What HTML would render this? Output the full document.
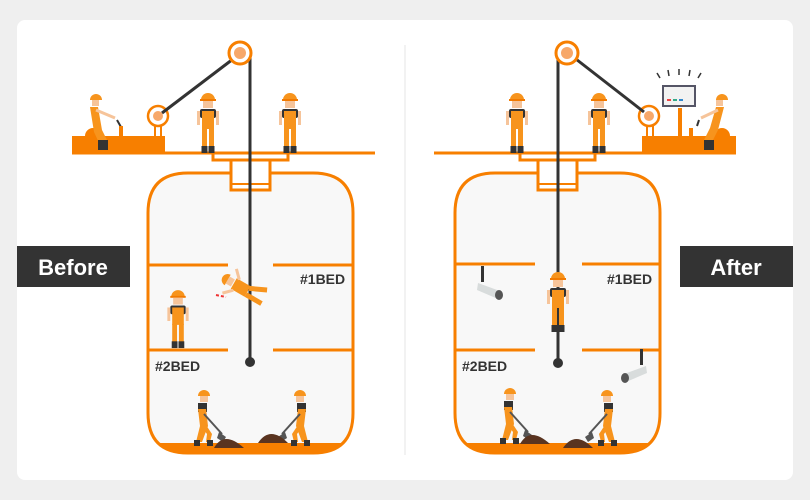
<!DOCTYPE html>
<html><head><meta charset="utf-8"><style>
html,body{margin:0;padding:0;background:#efefef;}
svg{display:block}
text{font-family:"Liberation Sans",sans-serif;font-weight:bold}
</style></head><body>
<svg width="810" height="500" viewBox="0 0 810 500" xmlns="http://www.w3.org/2000/svg">
<defs>
<clipPath id="cl"><path d="M148 213 Q148 173 188 173 L313 173 Q353 173 353 213 L353 413 Q353 453 313 453 L188 453 Q148 453 148 413 Z"/></clipPath>
<clipPath id="cr"><path d="M455 213 Q455 173 495 173 L620 173 Q660 173 660 213 L660 413 Q660 453 620 453 L495 453 Q455 453 455 413 Z"/></clipPath>
<symbol id="w" viewBox="0 0 24 60" overflow="visible">
  <path d="M5 5 a7 7 0 0 1 14 0 z" fill="#f7941d"/>
  <rect x="4" y="4" width="16" height="2" fill="#f27a00"/>
  <rect x="7" y="6" width="10" height="7" fill="#f6c49a"/>
  <rect x="4" y="14" width="16" height="9" rx="2" fill="#333"/>
  <rect x="1" y="16" width="3" height="14" fill="#f6c49a"/>
  <rect x="20" y="16" width="3" height="14" fill="#f6c49a"/>
  <rect x="6" y="16" width="12" height="18" fill="#f7941d"/>
  <rect x="6" y="33" width="5" height="20" fill="#f7941d"/>
  <rect x="13" y="33" width="5" height="20" fill="#f7941d"/>
  <rect x="5.5" y="51" width="6" height="7" fill="#333"/>
  <rect x="12.5" y="51" width="6" height="7" fill="#333"/>
</symbol>
<symbol id="dig" viewBox="0 0 40 60" overflow="visible">
  <path d="M12 4 a6 6 0 0 1 12 0 z" fill="#f7941d"/>
  <rect x="14" y="4" width="8" height="6" fill="#f6c49a"/>
  <rect x="12" y="11" width="9" height="9" fill="#333"/>
  <path d="M12 17 L20 17 L22 34 L16 50 L10 50 L14 34 Z" fill="#f7941d"/>
  <path d="M18 30 L26 42 L24 50 L20 50 L21 42 L15 34 Z" fill="#f7941d"/>
  <rect x="8" y="48" width="6" height="6" fill="#333"/>
  <rect x="21" y="48" width="6" height="6" fill="#333"/>
  <line x1="18" y1="22" x2="36" y2="42" stroke="#555" stroke-width="2"/>
  <path d="M33 40 l7 5 -3 5 -6 -4z" fill="#555"/>
</symbol>
<symbol id="cam" viewBox="0 0 30 20" overflow="visible">
  <rect x="3" y="-15" width="3" height="16" fill="#333"/>
  <path d="M0 2 L22 10 L20 18 L-1 9 Z" fill="#d8dcdc"/>
  <ellipse cx="21" cy="14" rx="4" ry="5" fill="#555"/>
</symbol>
</defs>
<rect x="17" y="20" width="776" height="460" rx="8" fill="#fff"/>
<line x1="405" y1="45" x2="405" y2="455" stroke="#e6e6e6" stroke-width="1"/>

<!-- LEFT -->
<g>
  <path d="M148 213 Q148 173 188 173 L313 173 Q353 173 353 213 L353 413 Q353 453 313 453 L188 453 Q148 453 148 413 Z" fill="#f8f8f8"/>
  <rect x="140" y="443" width="220" height="15" fill="#f77f00" clip-path="url(#cl)"/>
  <path d="M148 213 Q148 173 188 173 L313 173 Q353 173 353 213 L353 413 Q353 453 313 453 L188 453 Q148 453 148 413 Z" fill="none" stroke="#f77f00" stroke-width="3"/>
  <rect x="231" y="160" width="39" height="30" fill="#fff" stroke="#f77f00" stroke-width="3"/>
  <line x1="231" y1="184" x2="270" y2="184" stroke="#f77f00" stroke-width="2"/>
  <polyline points="213,153 213,160 288,160 288,153" fill="none" stroke="#f77f00" stroke-width="3"/>
  <rect x="72" y="136" width="93" height="18" fill="#f77f00"/>
  <path d="M85 136 a8 8 0 0 1 16 0z" fill="#f77f00"/>
  <line x1="72" y1="153" x2="375" y2="153" stroke="#f77f00" stroke-width="3"/>
  <rect x="155" y="115" width="6" height="22" fill="#fff" stroke="#f77f00" stroke-width="2"/>
  <circle cx="158" cy="116" r="10" fill="#fff" stroke="#f77f00" stroke-width="2.5"/>
  <circle cx="158" cy="116" r="5" fill="#f7a86a"/>
  <line x1="162" y1="113" x2="237" y2="56" stroke="#333" stroke-width="3"/>
  <line x1="250" y1="55" x2="250" y2="362" stroke="#333" stroke-width="3"/>
  <circle cx="250" cy="362" r="5" fill="#333"/>
  <circle cx="240" cy="53" r="11" fill="#fff" stroke="#f77f00" stroke-width="3"/>
  <circle cx="240" cy="53" r="6" fill="#f7a86a"/>
  <path d="M90 100 a6 6 0 0 1 12 0z" fill="#f7941d"/>
  <rect x="92" y="100" width="7" height="6" fill="#f6c49a"/>
  <path d="M90 107 L98 107 L102 130 L108 142 L100 145 L94 132 Z" fill="#f7941d"/>
  <line x1="96" y1="110" x2="115" y2="118" stroke="#f6c49a" stroke-width="3"/>
  <line x1="117" y1="120" x2="121" y2="127" stroke="#333" stroke-width="2"/>
  <rect x="98" y="140" width="10" height="10" fill="#333"/>
  <rect x="119" y="126" width="4" height="10" fill="#f77f00"/>
  <use href="#w" x="196" y="95" width="24" height="60"/>
  <use href="#w" x="278" y="95" width="24" height="60"/>
  <line x1="149" y1="265" x2="228" y2="265" stroke="#f77f00" stroke-width="3"/>
  <line x1="273" y1="265" x2="352" y2="265" stroke="#f77f00" stroke-width="3"/>
  <line x1="149" y1="350" x2="228" y2="350" stroke="#f77f00" stroke-width="3"/>
  <line x1="273" y1="350" x2="352" y2="350" stroke="#f77f00" stroke-width="3"/>
  <text x="300" y="284" font-size="14" fill="#333">#1BED</text>
  <text x="155" y="371" font-size="14" fill="#333">#2BED</text>
  <use href="#w" x="166" y="292" width="24" height="58"/>
  <g transform="translate(245,290) rotate(-60)">
    <path d="M-6 -20 a6 6 0 0 1 12 0z" fill="#f7941d"/>
    <rect x="-4" y="-20" width="8" height="6" fill="#f6c49a"/>
    <rect x="-6" y="-13" width="12" height="16" fill="#f7941d"/>
    <rect x="-6" y="3" width="5" height="18" fill="#f7941d"/>
    <rect x="1" y="3" width="5" height="18" fill="#f7941d" transform="rotate(-25 3 3)"/>
    <line x1="-6" y1="-10" x2="-14" y2="-18" stroke="#f6c49a" stroke-width="3"/>
    <line x1="6" y1="-10" x2="14" y2="-18" stroke="#f6c49a" stroke-width="3"/>
  </g>
  <line x1="216" y1="295" x2="226" y2="297" stroke="#e33" stroke-width="2" stroke-dasharray="3 2"/>
  <use href="#dig" x="186" y="392" width="40" height="60"/>
  <path d="M214 448 q10 -18 30 0z" fill="#5a3420"/>
  <g transform="translate(318,392) scale(-1,1)"><use href="#dig" x="0" y="0" width="40" height="60"/></g>
  <path d="M258 443 q12 -18 30 0z" fill="#5a3420"/>
  <rect x="17" y="246" width="113" height="41" fill="#333"/>
  <text x="73" y="275" font-size="22" fill="#fff" text-anchor="middle">Before</text>
</g>

<!-- RIGHT -->
<g>
  <path d="M455 213 Q455 173 495 173 L620 173 Q660 173 660 213 L660 413 Q660 453 620 453 L495 453 Q455 453 455 413 Z" fill="#f8f8f8"/>
  <rect x="447" y="443" width="220" height="15" fill="#f77f00" clip-path="url(#cr)"/>
  <path d="M455 213 Q455 173 495 173 L620 173 Q660 173 660 213 L660 413 Q660 453 620 453 L495 453 Q455 453 455 413 Z" fill="none" stroke="#f77f00" stroke-width="3"/>
  <rect x="538" y="160" width="39" height="30" fill="#fff" stroke="#f77f00" stroke-width="3"/>
  <line x1="538" y1="184" x2="577" y2="184" stroke="#f77f00" stroke-width="2"/>
  <polyline points="520,153 520,160 595,160 595,153" fill="none" stroke="#f77f00" stroke-width="3"/>
  <rect x="642" y="136" width="94" height="18" fill="#f77f00"/>
  <path d="M714 136 a8 8 0 0 1 16 0z" fill="#f77f00"/>
  <line x1="434" y1="153" x2="736" y2="153" stroke="#f77f00" stroke-width="3"/>
  <rect x="647" y="115" width="6" height="22" fill="#fff" stroke="#f77f00" stroke-width="2"/>
  <circle cx="649" cy="116" r="10" fill="#fff" stroke="#f77f00" stroke-width="2.5"/>
  <circle cx="649" cy="116" r="5" fill="#f7a86a"/>
  <line x1="644" y1="112" x2="572" y2="56" stroke="#333" stroke-width="3"/>
  <line x1="558" y1="55" x2="558" y2="362" stroke="#333" stroke-width="3"/>
  <circle cx="558" cy="363" r="5" fill="#333"/>
  <circle cx="567" cy="53" r="11" fill="#fff" stroke="#f77f00" stroke-width="3"/>
  <circle cx="567" cy="53" r="6" fill="#f7a86a"/>
  <rect x="678" y="108" width="4" height="28" fill="#f77f00"/>
  <rect x="662" y="85" width="34" height="22" fill="#556" />
  <rect x="664" y="87" width="30" height="18" fill="#f2f2f2"/>
  <rect x="667" y="99" width="4" height="2" fill="#e44"/><rect x="673" y="99" width="4" height="2" fill="#3a8"/><rect x="679" y="99" width="4" height="2" fill="#38c"/>
  <g stroke="#333" stroke-width="1.5">
    <line x1="657" y1="73" x2="660" y2="78"/><line x1="668" y1="70" x2="669" y2="76"/><line x1="679" y1="69" x2="679" y2="75"/><line x1="690" y1="70" x2="689" y2="76"/><line x1="701" y1="73" x2="698" y2="78"/>
  </g>
  <path d="M716 100 a6 6 0 0 1 12 0z" fill="#f7941d"/>
  <rect x="716" y="100" width="7" height="6" fill="#f6c49a"/>
  <path d="M716 107 L724 107 L718 130 L712 142 L704 140 L710 128 Z" fill="#f7941d"/>
  <line x1="718" y1="110" x2="701" y2="118" stroke="#f6c49a" stroke-width="3"/>
  <line x1="699" y1="120" x2="697" y2="126" stroke="#333" stroke-width="2"/>
  <rect x="704" y="140" width="10" height="10" fill="#333"/>
  <rect x="689" y="128" width="4" height="9" fill="#f77f00"/>
  <use href="#w" x="505" y="95" width="24" height="60"/>
  <use href="#w" x="587" y="95" width="24" height="60"/>
  <line x1="456" y1="264" x2="535" y2="264" stroke="#f77f00" stroke-width="3"/>
  <line x1="582" y1="264" x2="659" y2="264" stroke="#f77f00" stroke-width="3"/>
  <line x1="456" y1="350" x2="535" y2="350" stroke="#f77f00" stroke-width="3"/>
  <line x1="582" y1="350" x2="659" y2="350" stroke="#f77f00" stroke-width="3"/>
  <text x="607" y="284" font-size="14" fill="#333">#1BED</text>
  <text x="462" y="371" font-size="14" fill="#333">#2BED</text>
  <use href="#cam" x="478" y="281" width="30" height="20"/>
  <g transform="translate(646,364) scale(-1,1)"><use href="#cam" x="0" y="0" width="30" height="20"/></g>
  <use href="#w" x="546" y="273" width="24" height="62"/>
  <use href="#dig" x="492" y="390" width="40" height="60"/>
  <path d="M520 444 q10 -18 30 0z" fill="#5a3420"/>
  <g transform="translate(625,392) scale(-1,1)"><use href="#dig" x="0" y="0" width="40" height="60"/></g>
  <path d="M563 448 q12 -18 30 0z" fill="#5a3420"/>
  <rect x="680" y="246" width="113" height="41" fill="#333"/>
  <text x="736" y="275" font-size="22" fill="#fff" text-anchor="middle">After</text>
</g>
</svg>
</body></html>
